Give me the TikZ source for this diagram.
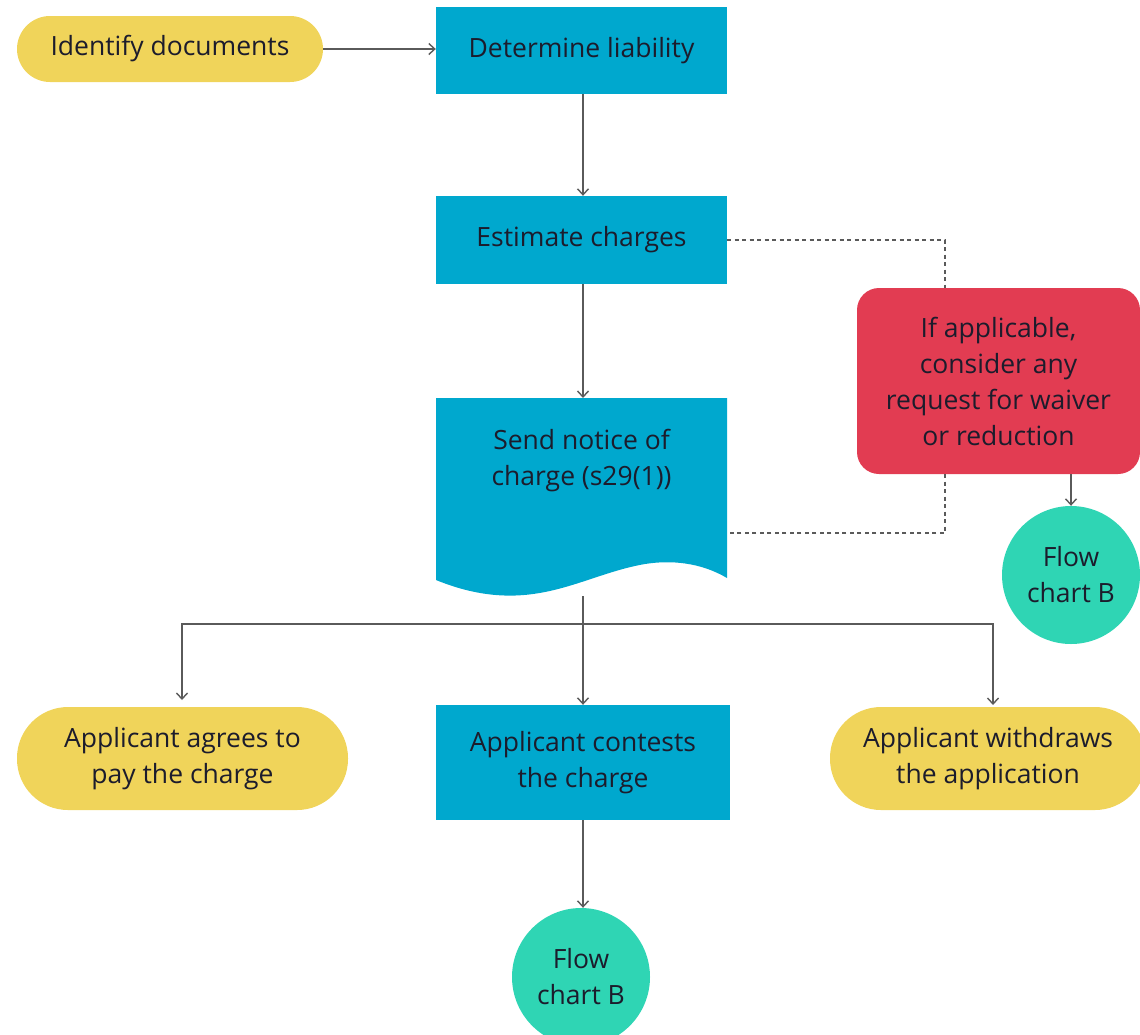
\documentclass[tikz,border=0pt]{standalone}
\usepackage{fontspec}
\setmainfont{Open Sans}
\usetikzlibrary{arrows.meta}
\definecolor{cyel}{HTML}{F0D45A}
\definecolor{cblue}{HTML}{00A8CE}
\definecolor{cred}{HTML}{E23C52}
\definecolor{cteal}{HTML}{2FD5B4}
\definecolor{ctext}{HTML}{1C1C2C}
\definecolor{cline}{HTML}{5A5A5A}
\begin{document}
\begin{tikzpicture}[x=1pt,y=-1pt,
  base/.style={font=\fontsize{26.5}{36}\selectfont, text=ctext, align=center, inner sep=0pt},
  stadium/.style={base, rectangle, fill=cyel},
  proc/.style={base, rectangle, fill=cblue},
  redbox/.style={base, rectangle, fill=cred, rounded corners=22pt},
  endcirc/.style={base, circle, fill=cteal, minimum size=138pt},
  arr/.style={draw=cline, line width=1.6pt, -{Straight Barb[length=6pt,width=11pt,line width=1.4pt]}},
  conn/.style={draw=cline, line width=1.6pt},
  dash line/.style={draw=cline, line width=1.6pt, dash pattern=on 4pt off 3.5pt}]
\useasboundingbox (0,0) rectangle (1140,1034);
\clip (0,0) rectangle (1140,1034);

\node[stadium, minimum width=306pt, minimum height=66pt, rounded corners=33pt] (ident) at (170,49) {Identify documents};
\node[proc, minimum width=291pt, minimum height=87pt] (liab) at (581.5,50.5) {Determine liability};
\node[proc, minimum width=291pt, minimum height=88pt] (est) at (581.5,240) {Estimate charges};

% document shape
\fill[cblue] (436,398) -- (727,398) -- (727,578)
  .. controls (700,562) and (670,560) .. (645,564)
  .. controls (610,570) and (580,585) .. (545,592)
  .. controls (515,598) and (480,598) .. (436,580) -- cycle;
\node[base] (send) at (581.5,461) {Send notice of\\charge (s29(1))};
\coordinate (sendtop) at (583,398);
\coordinate (sendbot) at (583,596);
\coordinate (sendright) at (727,533);

\node[redbox, minimum width=283pt, minimum height=186pt] (red) at (998.5,381) {If applicable,\\consider any\\request for waiver\\or reduction};
\node[endcirc] (flowR) at (1071,575) {Flow\\chart B};

\node[stadium, minimum width=331pt, minimum height=103pt, rounded corners=51pt] (agree) at (182.5,758.5) {Applicant agrees to\\pay the charge};
\node[proc, minimum width=294pt, minimum height=115pt] (contest) at (583,762.5) {Applicant contests\\the charge};
\node[stadium, minimum width=316pt, minimum height=103pt, rounded corners=51pt] (withdraw) at (988,758.5) {Applicant withdraws\\the application};
\node[endcirc] (flowB) at (581,977) {Flow\\chart B};

% connectors
\draw[arr] (ident.east) -- (ident.east -| liab.west);
\draw[arr] (liab.south -| sendtop) -- (est.north -| sendtop);
\draw[arr] (est.south -| sendtop) -- (sendtop);

\coordinate (dj) at (945,0);
\draw[dash line] (est.east) -- (est.east -| dj) -- (red.north -| dj);
\draw[dash line] (red.south -| dj) -- (sendright -| dj) -- (sendright);
\draw[arr] (red.south -| flowR.north) -- (flowR.north);

\coordinate (fan) at (583,624);
\coordinate (agreein) at (182,700);
\coordinate (within) at (993,705);
\draw[conn] (sendbot) -- (fan);
\draw[arr] (fan) -- (contest.north);
\draw[arr] (fan) -| (agreein);
\draw[arr] (fan) -| (within);
\draw[arr] (contest.south) -- (contest.south |- flowB.north);
\end{tikzpicture}
\end{document}
